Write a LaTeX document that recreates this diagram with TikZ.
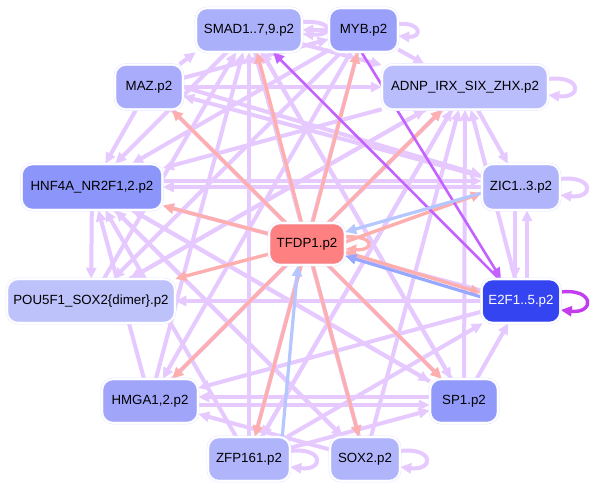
\documentclass[tikz,border=0pt]{standalone}
\usepackage{fontspec}
\setmainfont{Liberation Sans}
\usetikzlibrary{arrows.meta}
\pgfdeclarelayer{backlayer}
\pgfdeclarelayer{edgelayer}
\pgfsetlayers{backlayer,edgelayer,main}
\definecolor{lav}{RGB}{230,202,255}
\definecolor{salm}{RGB}{255,174,174}
\definecolor{purp}{RGB}{196,98,255}
\definecolor{purpd}{RGB}{196,60,240}
\definecolor{lblue}{RGB}{182,198,255}
\definecolor{mblue}{RGB}{150,168,255}
\definecolor{ndrim}{RGB}{228,230,255}
\tikzset{
  nd/.style={rectangle, rounded corners=11pt, draw=ndrim, double=white,
    line width=0.5pt, double distance=1.6pt, inner sep=0pt,
    font=\fontsize{13.3}{16}\selectfont, text=black},
  ed/.style={draw=lav, line width=4pt, -{Triangle[length=11pt,width=10pt]}},
  es/.style={ed, draw=salm, line width=3.4pt},
  ep/.style={ed, draw=purp, line width=2.6pt},
  epd/.style={ed, draw=purpd, line width=3.4pt},
  eb/.style={ed, draw=lblue, line width=3.2pt},
  ebm/.style={ed, draw=mblue, line width=3.2pt},
}
\begin{document}
\begin{tikzpicture}[x=1pt,y=-1pt]
\begin{pgfonlayer}{backlayer}
\fill[white] (0,0) rectangle (595,489);
\end{pgfonlayer}
\useasboundingbox (0,0) rectangle (595,489);
% nodes
\node[nd, fill={rgb,255:red,170;green,176;blue,250}, minimum width=106pt, minimum height=44pt] (smad) at (249,30) {SMAD1..7,9.p2};
\node[nd, fill={rgb,255:red,154;green,160;blue,250}, minimum width=69pt, minimum height=44pt] (myb) at (363.5,30) {MYB.p2};
\node[nd, fill={rgb,255:red,168;green,172;blue,250}, minimum width=68pt, minimum height=45pt] (maz) at (149,87) {MAZ.p2};
\node[nd, fill={rgb,255:red,185;green,189;blue,251}, minimum width=166pt, minimum height=45pt] (adnp) at (465,87) {ADNP\_IRX\_SIX\_ZHX.p2};
\node[nd, fill={rgb,255:red,140;green,150;blue,250}, minimum width=141pt, minimum height=46pt] (hnf) at (92,187) {HNF4A\_NR2F1,2.p2};
\node[nd, fill={rgb,255:red,176;green,180;blue,250}, minimum width=78pt, minimum height=46pt] (zic) at (521,187) {ZIC1..3.p2};
\node[nd, fill={rgb,255:red,255;green,128;blue,128}, minimum width=76pt, minimum height=42pt] (tfdp) at (307,244) {TFDP1.p2};
\node[nd, fill={rgb,255:red,190;green,194;blue,251}, minimum width=168pt, minimum height=44pt] (pou) at (91,301) {POU5F1\_SOX2\{dimer\}.p2};
\node[nd, fill={rgb,255:red,52;green,68;blue,240}, minimum width=79pt, minimum height=44pt, text=white] (e2f) at (521,301) {E2F1..5.p2};
\node[nd, fill={rgb,255:red,160;green,165;blue,250}, minimum width=96pt, minimum height=44pt] (hmga) at (150,401) {HMGA1,2.p2};
\node[nd, fill={rgb,255:red,145;green,154;blue,250}, minimum width=68pt, minimum height=44pt] (sp1) at (464,401) {SP1.p2};
\node[nd, fill={rgb,255:red,176;green,180;blue,250}, minimum width=82pt, minimum height=44pt] (zfp) at (249,459) {ZFP161.p2};
\node[nd, fill={rgb,255:red,176;green,180;blue,250}, minimum width=70pt, minimum height=44pt] (sox) at (365,459) {SOX2.p2};
\begin{pgfonlayer}{edgelayer}
% lavender edges
\draw[ed] (maz) -- (smad.south west);
\draw[ed] (maz) -- (myb);
\draw[ed] (maz) -- (adnp);
\draw[ed] (maz) -- (hnf);
\draw[ed] (maz.east) -- (zic);
\draw[ed] (maz) -- (sp1);
\draw[ed] (smad) -- (adnp);
\draw[ed] (smad) -- (hnf);
\draw[ed] (smad) -- (sp1);
\draw[ed] (smad) -- (sox);
\draw[ed] (myb) -- (smad);
\draw[ed] (myb) -- (adnp);
\draw[ed] (myb) -- (hnf);
\draw[ed] (myb) -- (pou);
\draw[ed] (myb) -- (hmga);
\draw[ed] (myb) -- (zfp);
\draw[ed] (adnp) -- (zic);
\draw[ed] (adnp) -- (hnf);
\draw[ed] (adnp) -- (pou);
\draw[ed] (adnp) -- (hmga);
\draw[ed] (adnp) -- (zfp);
\draw[ed] (zic) -- (hnf);
\draw[ed] ([xshift=-6pt]zic.south) -- ([xshift=-6pt]e2f.north);
\draw[ed] ([xshift=6pt]e2f.north) -- ([xshift=6pt]zic.south);
\draw[ed] (zic) -- (maz);
\draw[ed] (e2f) -- (hnf);
\draw[ed] (e2f) -- (adnp);
\draw[ed] (e2f) -- (pou);
\draw[ed] (e2f) -- (hmga);
\draw[ed] ([yshift=6pt]hnf.east) -- ([yshift=6pt]zic.west);
\draw[ed] (hnf) -- (pou);
\draw[ed] (hnf) -- (sp1);
\draw[ed] (hnf) -- (sox);
\draw[ed] (pou) -- (adnp);
\draw[ed] (pou) -- (smad);
\draw[ed] (hmga) -- (smad);
\draw[ed] (hmga) -- (adnp);
\draw[ed] ([yshift=-4pt]hmga.east) -- ([yshift=-4pt]sp1.west);
\draw[ed] (hmga) -- (hnf);
\draw[ed] (sp1) -- (e2f);
\draw[ed] (sp1) -- (adnp);
\draw[ed] (sp1) -- (hnf);
\draw[ed] ([yshift=4pt]sp1.west) -- ([yshift=4pt]hmga.east);
\draw[ed] (sp1) -- (smad);
\draw[ed] (zfp) -- (smad);
\draw[ed] (zfp) -- (adnp);
\draw[ed] (zfp) -- (hnf);
\draw[ed] (zfp) -- (e2f);
\draw[ed] (zfp) -- (sp1);
\draw[ed] (sox) -- (smad);
\draw[ed] (sox) -- (adnp);
\draw[ed] (sox) -- (hnf);
\draw[ed] (sox) -- (hmga);
% lavender self loops
\draw[ed] ([yshift=8pt]smad.east) .. controls +(32,-2) and +(32,2) .. ([yshift=-4pt]smad.east);
\draw[ed] ([yshift=6pt]myb.east) .. controls +(24,-2) and +(24,2) .. ([yshift=-6pt]myb.east);
\draw[ed] ([yshift=8pt]adnp.east) .. controls +(34,-4) and +(34,4) .. ([yshift=-8pt]adnp.east);
\draw[ed] ([yshift=8pt]zic.east) .. controls +(34,-4) and +(34,4) .. ([yshift=-8pt]zic.east);
\draw[ed] ([yshift=8pt]zfp.east) .. controls +(34,-4) and +(34,4) .. ([yshift=-8pt]zfp.east);
\draw[ed] ([yshift=8pt]sox.east) .. controls +(34,-4) and +(34,4) .. ([yshift=-8pt]sox.east);
% salmon edges from TFDP1
\draw[es] (tfdp) -- ([xshift=8pt]smad.south);
\draw[es] (tfdp) -- (myb);
\draw[es] (tfdp) -- (maz);
\draw[es] (tfdp) -- (adnp);
\draw[es] (tfdp) -- (hnf);
\draw[es] ([yshift=2pt]tfdp.east) -- ([yshift=-6pt]zic.west);
\draw[es] ([yshift=-8pt]tfdp.east) -- ([yshift=8pt]e2f.west);
\draw[es] (tfdp) -- (pou);
\draw[es] (tfdp) -- (hmga);
\draw[es] (tfdp) -- (sp1);
\draw[es] (tfdp) -- (zfp);
\draw[es] (tfdp) -- (sox);
\draw[es] ([yshift=7pt]tfdp.east) .. controls +(30,-2) and +(30,2) .. ([yshift=-5pt]tfdp.east);
% purple and blue edges
\draw[ep] (e2f) -- ([xshift=24pt]smad.south);
\draw[ep] ([xshift=-2pt]myb.south) -- ([xshift=-20pt]e2f.north);
\draw[epd] ([yshift=9pt]e2f.east) .. controls +(34,-4) and +(34,4) .. ([yshift=-9pt]e2f.east);
\draw[eb] ([yshift=-6pt]zic.west) -- ([yshift=12pt]tfdp.east);
\draw[ebm] ([yshift=4pt]e2f.west) -- ([yshift=-12pt]tfdp.east);
\draw[eb] ([xshift=-8pt]zfp.north east) -- ([xshift=-9pt]tfdp.south);
\end{pgfonlayer}
\end{tikzpicture}
\end{document}
